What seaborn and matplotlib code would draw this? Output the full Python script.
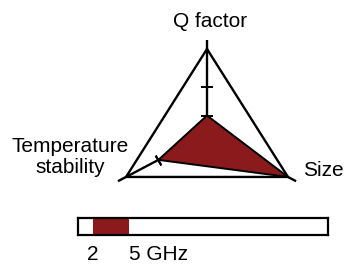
import numpy as np
import matplotlib
matplotlib.use("Agg")
import matplotlib.pyplot as plt
import seaborn as sns

# ---- data ----
axes_labels = ["Q factor", "Size", "Temperature\nstability"]
axis_angles_deg = [90, 330, 210]
values = [0.22, 1.0, 0.60]
axis_ticks = [[0.22, 0.56], [], [0.60]]
band_low, band_high = 2, 5
band_tick_labels = ["2", "5 GHz"]

RED = "#8B1A1C"

sns.set_style("white")
plt.rcParams["font.family"] = ["Liberation Sans", "DejaVu Sans"]
plt.rcParams["text.color"] = "black"

fig = plt.figure(figsize=(3.45, 2.65), dpi=100)
ax = fig.add_axes([0, 0, 1, 1])
ax.set_xlim(-2.214, 1.476)
ax.set_ylim(-1.532, 1.574)
ax.axis("off")

ang = np.deg2rad(axis_angles_deg)
dx, dy = np.cos(ang), np.sin(ang)

# spokes (extend slightly past the outer triangle)
for i in range(3):
    ax.plot([0, 1.1 * dx[i]], [0, 1.1 * dy[i]], color="black", lw=1.7,
            zorder=1, solid_capstyle="butt")

# outer triangle
ox = np.append(dx, dx[0])
oy = np.append(dy, dy[0])
ax.plot(ox, oy, color="black", lw=1.7, zorder=3, solid_joinstyle="miter")

# data polygon
v = np.array(values)
px, py = v * dx, v * dy
ax.fill(px, py, facecolor=RED, edgecolor="black", lw=1.4, zorder=2)

# tick marks on spokes
for i in range(3):
    for t in axis_ticks[i]:
        ax.plot(t * dx[i], t * dy[i], marker=(2, 2, axis_angles_deg[i]),
                ms=8, mew=1.4, color="black", zorder=4)

# axis labels
label_pos = [(0.03, 1.32, "center"), (1.027, -0.419, "left"), (-1.465, -0.266, "center")]
for lab, (lx, ly, ha) in zip(axes_labels, label_pos):
    ax.text(lx, ly, lab, ha=ha, va="center", fontsize=15, color="black",
            linespacing=1.1)

# ---- frequency band bar ----
bx = fig.add_axes([78 / 345, 30 / 265, 250 / 345, 17 / 265])
bx.set_xlim(0.75, 21.6)
bx.set_ylim(0, 1)
bx.barh(0.07, band_high - band_low, left=band_low, height=0.93, align="edge",
        color=RED, linewidth=0)
bx.set_xticks([])
bx.set_yticks([])
for s in bx.spines.values():
    s.set_visible(True)
    s.set_color("black")
    s.set_linewidth(1.6)
tr = bx.get_xaxis_transform()
bx.text(band_low, -1.17, band_tick_labels[0], transform=tr, ha="center",
        va="center", fontsize=15, color="black")
bx.text(band_high, -1.17, band_tick_labels[1], transform=tr, ha="left",
        va="center", fontsize=15, color="black")

fig.savefig("out.png", dpi=100)
